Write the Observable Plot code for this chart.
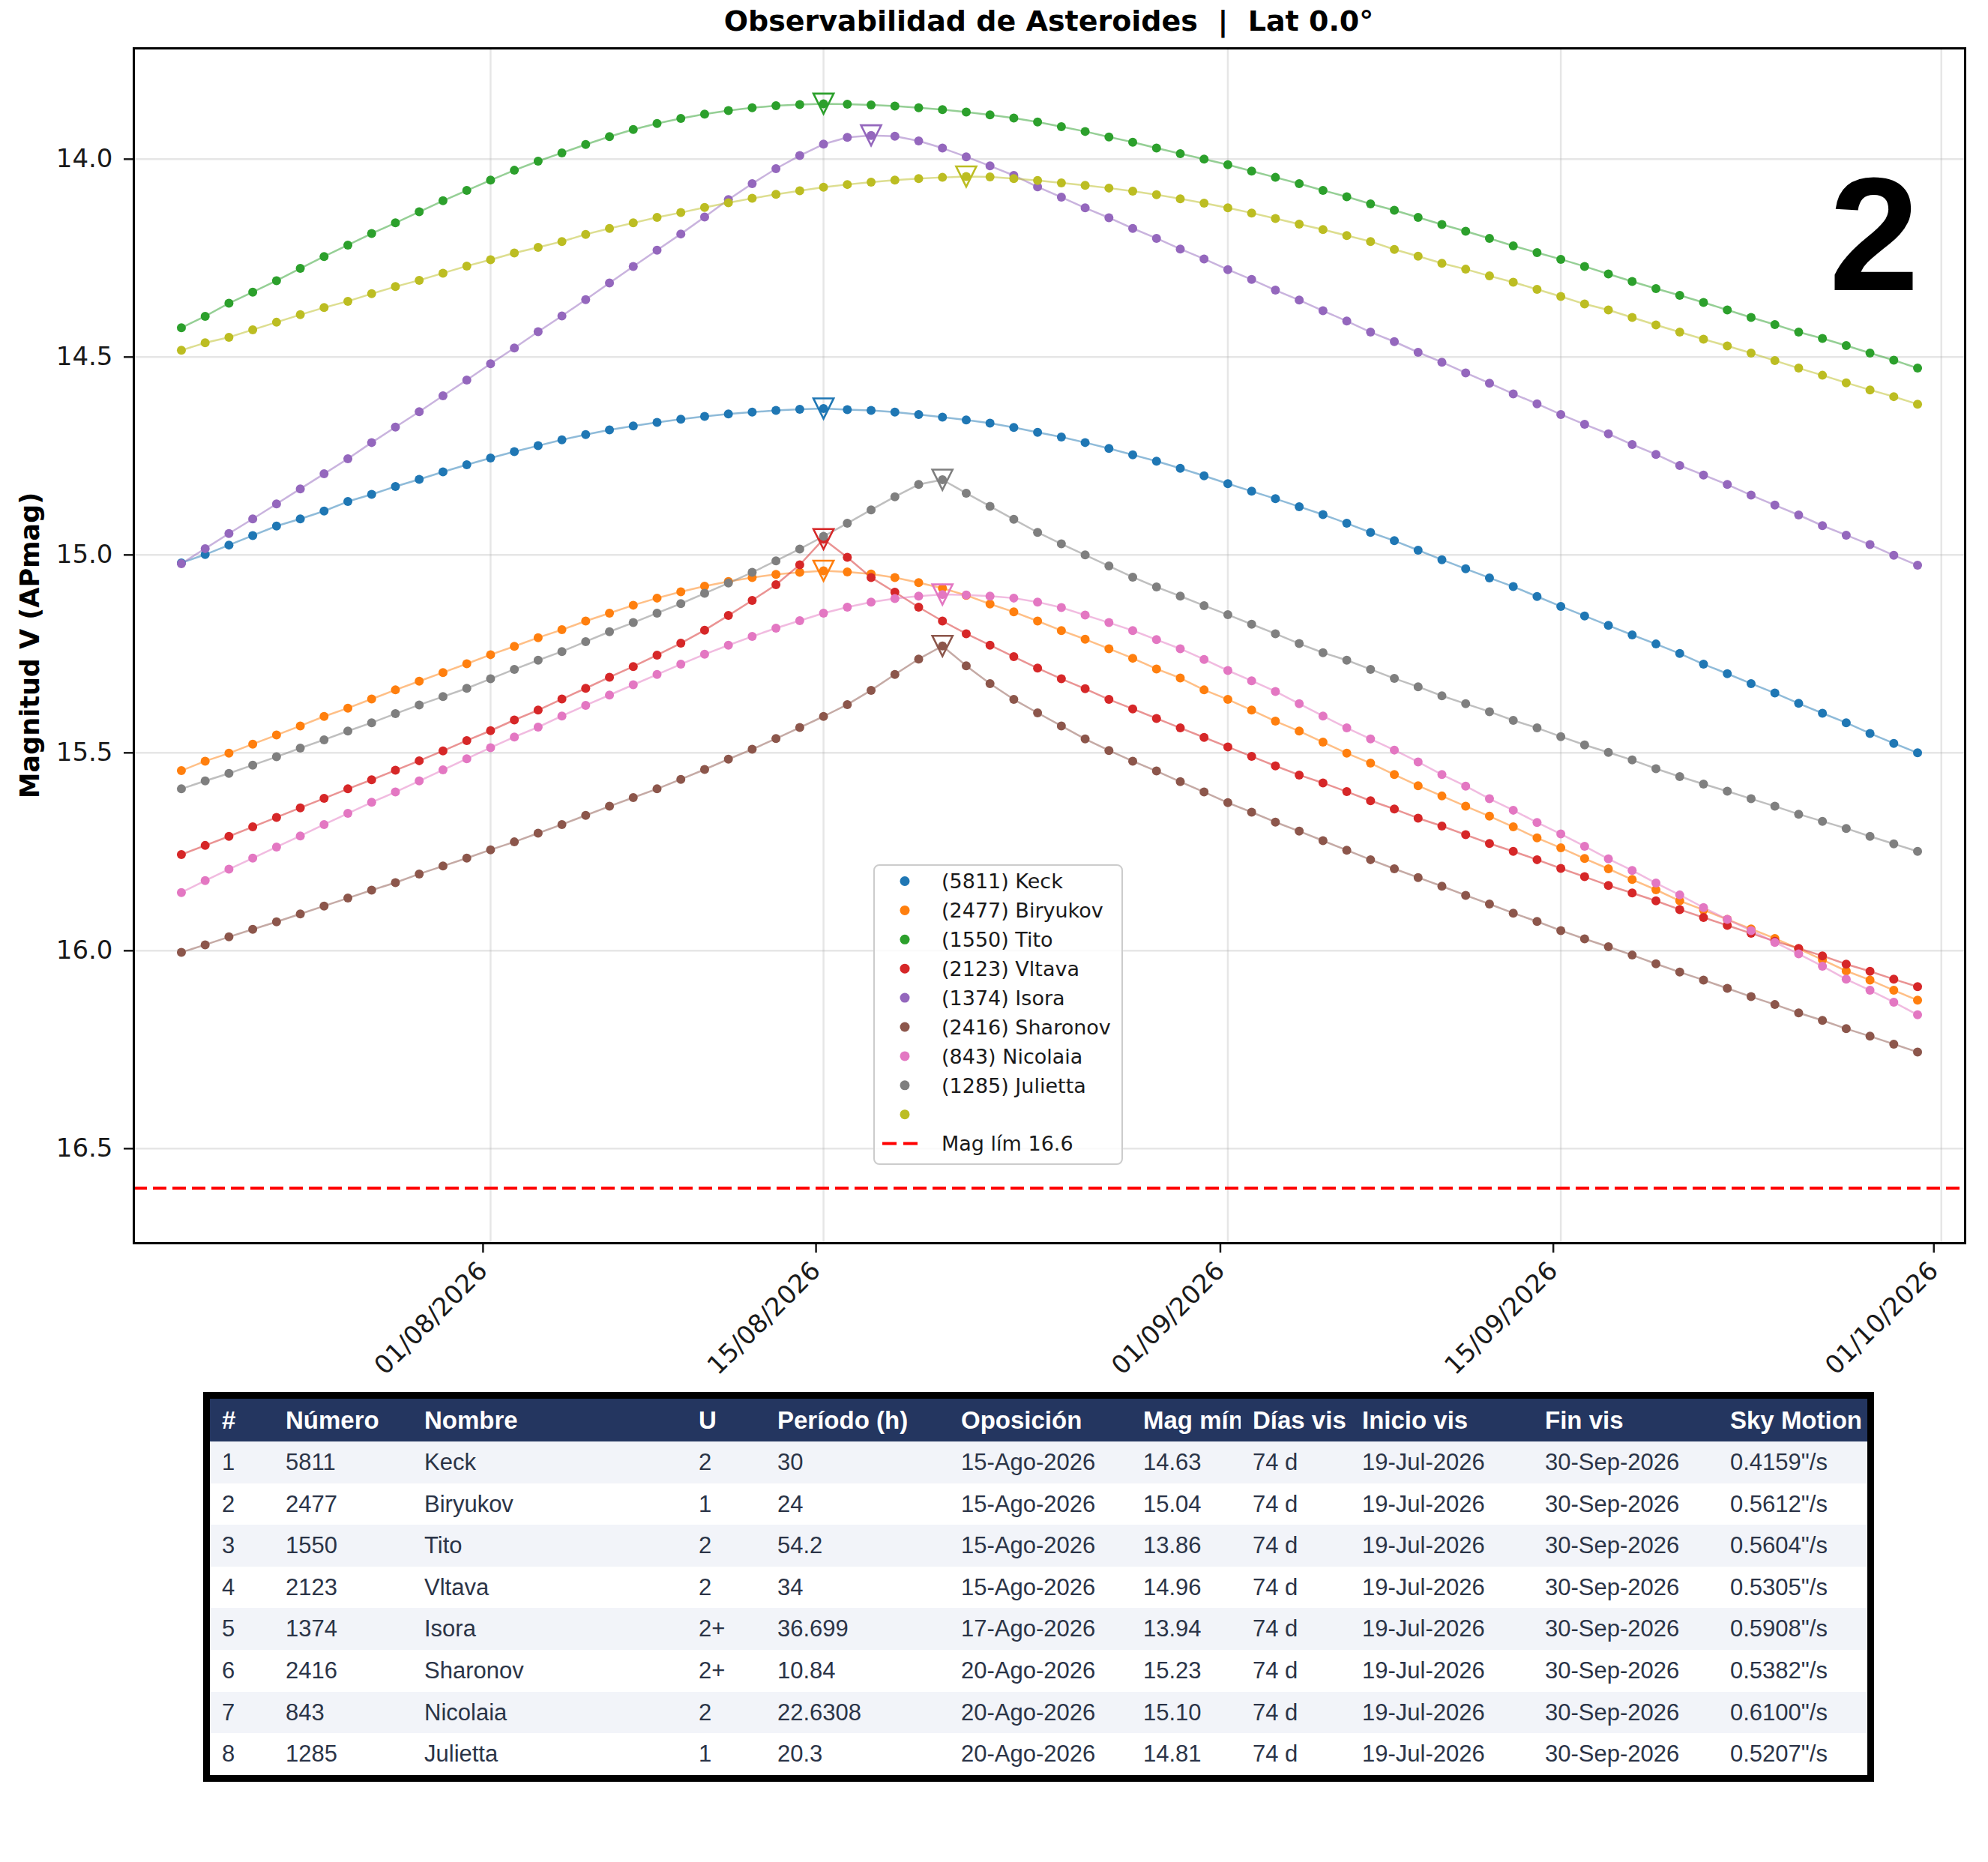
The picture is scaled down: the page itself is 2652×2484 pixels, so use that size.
<!DOCTYPE html>
<html>
<head>
<meta charset="utf-8">
<script src="https://cdn.jsdelivr.net/npm/d3@7"></script>
<script src="https://cdn.jsdelivr.net/npm/@observablehq/plot@0.6"></script>
<style>
  html, body { margin: 0; padding: 0; background: #fff; }
  #page { position: relative; width: 2652px; height: 2484px; background: #fff; overflow: hidden; }
  #page > * { position: absolute; }
  #title { top: 9px; left: 1399px; transform: translateX(-50%); white-space: pre;
           font: bold 38px/1 "DejaVu Sans", sans-serif; color: #000; }
  #badge { top: 204px; left: 2400px; width: 200px; text-align: center;
           font: bold 216px/1 "Liberation Sans", Arial, sans-serif; color: #000; }
  #tbl { left: 271px; top: 1857px; width: 2229px; border: 9px solid #000; box-sizing: border-box;
         font-family: "Liberation Sans", Arial, sans-serif; font-size: 31px; background: #fff; }
  .row { display: flex; height: 55.6px; line-height: 55.6px; color: #2b3447; }
  .row.head { height: 57px; line-height: 57px; background: #243660; color: #fff; font-weight: bold; font-size: 33px; }
  .row.odd { background: #f2f4f9; }
  .cell { box-sizing: border-box; padding-left: 16px; padding-right: 4px; white-space: nowrap; overflow: hidden; flex: none; }
</style>
</head>
<body>
<div id="page"></div>
<script>
// ---- Magnitude curves: one value per day, 19-Jul-2026 .. 30-Sep-2026 ----
const keck = [
  15.020, 14.999, 14.975, 14.951, 14.927, 14.909, 14.889, 14.865, 14.847, 14.827, 14.809, 14.790, 14.772, 14.755,
  14.739, 14.724, 14.709, 14.696, 14.684, 14.674, 14.665, 14.657, 14.650, 14.644, 14.639, 14.635, 14.632, 14.630,
  14.633, 14.635, 14.639, 14.645, 14.652, 14.659, 14.667, 14.678, 14.690, 14.702, 14.716, 14.731, 14.747, 14.763,
  14.781, 14.800, 14.820, 14.839, 14.858, 14.878, 14.898, 14.920,
  14.943, 14.964, 14.988, 15.012, 15.035, 15.058, 15.080, 15.105, 15.130, 15.154, 15.178, 15.202, 15.225, 15.249,
  15.276, 15.300, 15.325, 15.349, 15.375, 15.400, 15.424, 15.451, 15.476, 15.500
];
const biryukov = [
  15.545, 15.521, 15.501, 15.478, 15.455, 15.432, 15.408, 15.387, 15.364, 15.341, 15.319, 15.297, 15.275, 15.252,
  15.231, 15.209, 15.189, 15.167, 15.147, 15.127, 15.109, 15.093, 15.079, 15.067, 15.057, 15.049, 15.044, 15.040,
  15.043, 15.048, 15.057, 15.070, 15.084, 15.102, 15.124, 15.144, 15.167, 15.191, 15.213, 15.237, 15.261, 15.288,
  15.311, 15.341, 15.365, 15.392, 15.420, 15.445, 15.473, 15.501,
  15.526, 15.555, 15.583, 15.609, 15.635, 15.660, 15.687, 15.715, 15.740, 15.767, 15.793, 15.820, 15.846, 15.874,
  15.897, 15.921, 15.945, 15.969, 15.995, 16.023, 16.051, 16.074, 16.100, 16.125
];
const tito = [
  14.426, 14.397, 14.364, 14.336, 14.307, 14.276, 14.246, 14.217, 14.188, 14.161, 14.133, 14.105, 14.079, 14.053,
  14.028, 14.005, 13.984, 13.963, 13.943, 13.925, 13.910, 13.897, 13.886, 13.877, 13.870, 13.865, 13.862, 13.860,
  13.861, 13.863, 13.866, 13.870, 13.875, 13.881, 13.888, 13.896, 13.906, 13.918, 13.930, 13.944, 13.957, 13.972,
  13.986, 14.000, 14.014, 14.030, 14.046, 14.062, 14.079, 14.095,
  14.113, 14.129, 14.147, 14.165, 14.182, 14.200, 14.219, 14.236, 14.253, 14.271, 14.290, 14.309, 14.327, 14.344,
  14.362, 14.381, 14.400, 14.418, 14.437, 14.453, 14.471, 14.490, 14.508, 14.528
];
const vltava = [
  15.757, 15.734, 15.711, 15.687, 15.663, 15.639, 15.615, 15.591, 15.568, 15.544, 15.520, 15.495, 15.469, 15.444,
  15.417, 15.392, 15.364, 15.337, 15.309, 15.282, 15.253, 15.223, 15.190, 15.153, 15.115, 15.075, 15.025, 14.960,
  15.006, 15.057, 15.094, 15.132, 15.167, 15.199, 15.228, 15.257, 15.286, 15.313, 15.338, 15.365, 15.389, 15.413,
  15.437, 15.461, 15.485, 15.509, 15.533, 15.556, 15.576, 15.598,
  15.621, 15.642, 15.665, 15.685, 15.707, 15.729, 15.749, 15.770, 15.792, 15.813, 15.835, 15.854, 15.874, 15.896,
  15.916, 15.936, 15.956, 15.976, 15.994, 16.013, 16.034, 16.052, 16.072, 16.091
];
const isora = [
  15.022, 14.984, 14.946, 14.909, 14.871, 14.833, 14.795, 14.757, 14.716, 14.677, 14.638, 14.598, 14.558, 14.517,
  14.477, 14.436, 14.396, 14.355, 14.313, 14.271, 14.230, 14.189, 14.146, 14.102, 14.062, 14.024, 13.991, 13.962,
  13.945, 13.940, 13.942, 13.954, 13.972, 13.994, 14.017, 14.041, 14.070, 14.096, 14.123, 14.148, 14.175, 14.200,
  14.227, 14.252, 14.279, 14.304, 14.331, 14.356, 14.383, 14.409,
  14.437, 14.461, 14.488, 14.513, 14.540, 14.566, 14.593, 14.618, 14.645, 14.670, 14.694, 14.721, 14.746, 14.774,
  14.798, 14.822, 14.849, 14.874, 14.899, 14.926, 14.950, 14.974, 15.001, 15.026
];
const sharonov = [
  16.004, 15.985, 15.965, 15.946, 15.927, 15.907, 15.887, 15.867, 15.847, 15.828, 15.806, 15.786, 15.766, 15.745,
  15.725, 15.703, 15.681, 15.658, 15.635, 15.613, 15.591, 15.567, 15.542, 15.516, 15.491, 15.464, 15.436, 15.408,
  15.378, 15.342, 15.302, 15.263, 15.230, 15.280, 15.325, 15.365, 15.399, 15.432, 15.465, 15.494, 15.521, 15.546,
  15.573, 15.599, 15.626, 15.650, 15.675, 15.698, 15.722, 15.746,
  15.770, 15.793, 15.815, 15.837, 15.860, 15.882, 15.905, 15.926, 15.949, 15.970, 15.990, 16.011, 16.033, 16.054,
  16.074, 16.095, 16.116, 16.136, 16.157, 16.176, 16.197, 16.216, 16.236, 16.256
];
const nicolaia = [
  15.853, 15.823, 15.794, 15.766, 15.738, 15.710, 15.681, 15.653, 15.625, 15.599, 15.571, 15.543, 15.515, 15.487,
  15.460, 15.435, 15.407, 15.380, 15.354, 15.328, 15.302, 15.276, 15.251, 15.228, 15.206, 15.185, 15.166, 15.147,
  15.132, 15.119, 15.110, 15.104, 15.100, 15.101, 15.104, 15.109, 15.119, 15.133, 15.152, 15.171, 15.191, 15.214,
  15.237, 15.264, 15.292, 15.318, 15.345, 15.376, 15.407, 15.437,
  15.465, 15.493, 15.523, 15.555, 15.584, 15.616, 15.645, 15.676, 15.705, 15.736, 15.768, 15.797, 15.829, 15.859,
  15.891, 15.921, 15.949, 15.979, 16.008, 16.039, 16.072, 16.100, 16.130, 16.162
];
const julietta = [
  15.591, 15.571, 15.552, 15.531, 15.510, 15.488, 15.467, 15.445, 15.424, 15.401, 15.379, 15.358, 15.337, 15.313,
  15.289, 15.266, 15.244, 15.219, 15.194, 15.171, 15.147, 15.123, 15.097, 15.071, 15.044, 15.015, 14.985, 14.953,
  14.920, 14.886, 14.853, 14.822, 14.810, 14.844, 14.877, 14.910, 14.943, 14.972, 15.000, 15.028, 15.056, 15.081,
  15.104, 15.128, 15.151, 15.175, 15.199, 15.224, 15.247, 15.266,
  15.289, 15.312, 15.333, 15.356, 15.376, 15.396, 15.418, 15.437, 15.459, 15.480, 15.499, 15.518, 15.540, 15.560,
  15.579, 15.597, 15.616, 15.635, 15.655, 15.673, 15.691, 15.711, 15.730, 15.749
];
// ninth (unlabelled) object
const serie9 = [
  14.483, 14.464, 14.450, 14.431, 14.412, 14.393, 14.375, 14.359, 14.340, 14.322, 14.306, 14.288, 14.270, 14.254,
  14.237, 14.223, 14.208, 14.190, 14.175, 14.161, 14.147, 14.135, 14.122, 14.110, 14.099, 14.089, 14.080, 14.071,
  14.064, 14.058, 14.053, 14.049, 14.046, 14.044, 14.045, 14.049, 14.054, 14.060, 14.066, 14.073, 14.081, 14.090,
  14.100, 14.111, 14.123, 14.136, 14.150, 14.164, 14.178, 14.193,
  14.208, 14.228, 14.245, 14.263, 14.278, 14.295, 14.311, 14.329, 14.347, 14.366, 14.381, 14.400, 14.419, 14.437,
  14.455, 14.472, 14.490, 14.509, 14.528, 14.546, 14.565, 14.583, 14.600, 14.619
];
const serie9Oposicion = "21-Ago-2026";
const serie9MagMin = 14.044;

// ---- Summary table ----
const numeros     = ["5811", "2477", "1550", "2123", "1374", "2416", "843", "1285"];
const nombres     = ["Keck", "Biryukov", "Tito", "Vltava", "Isora", "Sharonov", "Nicolaia", "Julietta"];
const clasesU     = ["2", "1", "2", "2", "2+", "2+", "2", "1"];
const periodos    = ["30", "24", "54.2", "34", "36.699", "10.84", "22.6308", "20.3"];
const oposiciones = ["15-Ago-2026", "15-Ago-2026", "15-Ago-2026", "15-Ago-2026", "17-Ago-2026", "20-Ago-2026", "20-Ago-2026", "20-Ago-2026"];
const magMin      = [14.63, 15.04, 13.86, 14.96, 13.94, 15.23, 15.10, 14.81];
const diasVis     = [74, 74, 74, 74, 74, 74, 74, 74];
const inicioVis   = ["19-Jul-2026", "19-Jul-2026", "19-Jul-2026", "19-Jul-2026", "19-Jul-2026", "19-Jul-2026", "19-Jul-2026", "19-Jul-2026"];
const finVis      = ["30-Sep-2026", "30-Sep-2026", "30-Sep-2026", "30-Sep-2026", "30-Sep-2026", "30-Sep-2026", "30-Sep-2026", "30-Sep-2026"];
const skyMotion   = ["0.4159", "0.5612", "0.5604", "0.5305", "0.5908", "0.5382", "0.6100", "0.5207"];

const colores = ["#1f77b4", "#ff7f0e", "#2ca02c", "#d62728", "#9467bd", "#8c564b", "#e377c2", "#7f7f7f", "#bcbd22"];
const magLim = 16.6;
const yTicks = [14.0, 14.5, 15.0, 15.5, 16.0, 16.5];
const xTickLabels = ["01/08/2026", "15/08/2026", "01/09/2026", "15/09/2026", "01/10/2026"];
const fechaInicio = "19/07/2026";

// ---- helpers ----
const parseDMY = d3.utcParse("%d/%m/%Y");
const mesesES = {Ene: 0, Feb: 1, Mar: 2, Abr: 3, May: 4, Jun: 5, Jul: 6, Ago: 7, Sep: 8, Oct: 9, Nov: 10, Dic: 11};
function parseES(s) {
  const [d, m, y] = s.split("-");
  return new Date(Date.UTC(+y, mesesES[m], +d));
}
const t0 = parseDMY(fechaInicio);
const dia = i => d3.utcDay.offset(t0, i);

const series = [keck, biryukov, tito, vltava, isora, sharonov, nicolaia, julietta, serie9];
const claves = nombres.map((n, i) => `(${numeros[i]}) ${n}`).concat([""]);
const keys = claves.map((c, i) => c || `serie-${i}`);

const puntos = series.flatMap((vals, s) => vals.map((v, i) => ({fecha: dia(i), mag: v, key: keys[s]})));
const oposicion = oposiciones.map((o, i) => ({fecha: parseES(o), mag: magMin[i], key: keys[i]}))
  .concat([{fecha: parseES(serie9Oposicion), mag: serie9MagMin, key: keys[8]}]);

// open downward triangle
const trianguloAbajo = {
  draw(ctx, size) {
    const r = Math.sqrt(size / Math.PI);
    ctx.moveTo(-r, -r);
    ctx.lineTo(r, -r);
    ctx.lineTo(0, r);
    ctx.closePath();
  }
};

const xTicks = xTickLabels.map(parseDMY);
const H = 1856;
const svg = Plot.plot({
  width: 2652,
  height: H,
  marginLeft: 178,
  marginRight: 31,
  marginTop: 64,
  marginBottom: H - 1658,
  style: {fontFamily: "'DejaVu Sans', sans-serif", fontSize: "34px", color: "#1a1a1a", background: "transparent", overflow: "visible"},
  x: {type: "utc", domain: [new Date(Date.UTC(2026, 6, 17)), new Date(Date.UTC(2026, 9, 2))]},
  y: {domain: [13.720, 16.739], reverse: true},
  color: {domain: keys, range: colores},
  marks: [
    Plot.gridX(xTicks, {stroke: "#b0b0b0", strokeOpacity: 0.32, strokeWidth: 2.5}),
    Plot.gridY(yTicks, {stroke: "#b0b0b0", strokeOpacity: 0.32, strokeWidth: 2.5}),
    Plot.ruleY([magLim], {stroke: "#ff0000", strokeWidth: 4, strokeDasharray: "18,8"}),
    Plot.line(puntos, {x: "fecha", y: "mag", z: "key", stroke: "key", strokeOpacity: 0.5, strokeWidth: 2.5}),
    Plot.dot(puntos, {x: "fecha", y: "mag", fill: "key", r: 6}),
    Plot.dot(oposicion, {x: "fecha", y: "mag", stroke: "key", fill: "none", symbol: trianguloAbajo, r: 13.5, strokeWidth: 2.6}),
    Plot.axisY(yTicks, {tickFormat: d3.format(".1f"), tickSize: 13, tickPadding: 15, strokeWidth: 2.5, fontSize: 34, label: null}),
    Plot.axisX(xTicks, {tickFormat: d3.utcFormat("%d/%m/%Y"), tickRotate: -45, tickSize: 13, tickPadding: 18, dx: -10,
                        strokeWidth: 2.5, fontSize: 34, label: null}),
    Plot.frame({stroke: "#000", strokeWidth: 3})
  ]
});

// y axis title
d3.select(svg).append("text")
  .attr("transform", "translate(52,861) rotate(-90)")
  .attr("text-anchor", "middle")
  .attr("font-weight", "bold")
  .attr("font-size", 35)
  .attr("fill", "#000")
  .text("Magnitud V (APmag)");

const page = document.getElementById("page");
svg.style.left = "0px";
svg.style.top = "0px";
svg.style.position = "absolute";
page.appendChild(svg);

// title
const title = document.createElement("div");
title.id = "title";
title.textContent = "Observabilidad de Asteroides  |  Lat 0.0°";
page.appendChild(title);

// panel number
const badge = document.createElement("div");
badge.id = "badge";
badge.textContent = "2";
page.appendChild(badge);

// legend
const lg = d3.create("svg").attr("width", 334).attr("height", 402)
  .style("position", "absolute").style("left", "1165px").style("top", "1153px");
lg.append("rect").attr("x", 1).attr("y", 1).attr("width", 331).attr("height", 399).attr("rx", 7)
  .attr("fill", "#fff").attr("fill-opacity", 0.8).attr("stroke", "#cccccc").attr("stroke-width", 2);
const rowY = i => 22.5 + i * 38.9;
claves.forEach((c, i) => {
  lg.append("circle").attr("cx", 42).attr("cy", rowY(i)).attr("r", 6.5).attr("fill", colores[i]);
  lg.append("text").attr("x", 91).attr("y", rowY(i)).attr("dy", "0.36em")
    .attr("font-family", "'DejaVu Sans', sans-serif").attr("font-size", 27).attr("fill", "#1a1a1a").text(c);
});
lg.append("line").attr("x1", 12).attr("x2", 60).attr("y1", rowY(9)).attr("y2", rowY(9))
  .attr("stroke", "#ff0000").attr("stroke-width", 4).attr("stroke-dasharray", "19,9");
lg.append("text").attr("x", 91).attr("y", rowY(9)).attr("dy", "0.36em")
  .attr("font-family", "'DejaVu Sans', sans-serif").attr("font-size", 27).attr("fill", "#1a1a1a")
  .text(`Mag lím ${magLim.toFixed(1)}`);
page.appendChild(lg.node());

// table
const colW = [85, 185, 366, 105, 245, 243, 146, 146, 244, 247, 199];
const cabecera = ["#", "Número", "Nombre", "U", "Período (h)", "Oposición", "Mag mín", "Días vis", "Inicio vis", "Fin vis", "Sky Motion"];
const tbl = document.createElement("div");
tbl.id = "tbl";
function addRow(cells, cls) {
  const r = document.createElement("div");
  r.className = "row " + cls;
  cells.forEach((t, j) => {
    const c = document.createElement("div");
    c.className = "cell";
    c.style.width = colW[j] + "px";
    c.textContent = t;
    r.appendChild(c);
  });
  tbl.appendChild(r);
}
addRow(cabecera, "head");
nombres.forEach((n, i) => {
  addRow([String(i + 1), numeros[i], n, clasesU[i], periodos[i], oposiciones[i], magMin[i].toFixed(2),
          `${diasVis[i]} d`, inicioVis[i], finVis[i], `${skyMotion[i]}"/s`], i % 2 === 0 ? "odd" : "even");
});
page.appendChild(tbl);
</script>
</body>
</html>
